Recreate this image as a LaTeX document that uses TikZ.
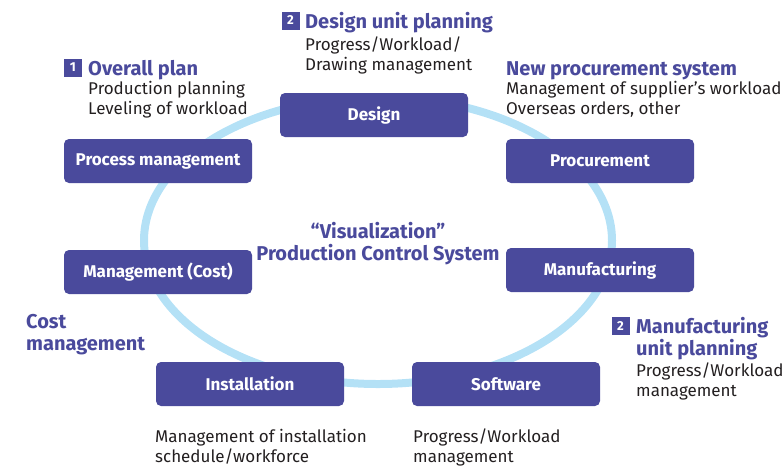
\documentclass[tikz,border=0pt]{standalone}
\usepackage{fontspec}
\setmainfont{Fira Sans}
\usetikzlibrary{positioning}
\definecolor{unitblue}{HTML}{4A4A9C}
\definecolor{ringblue}{HTML}{B4E1F6}
\definecolor{notegray}{HTML}{231F20}

\begin{document}
\begin{tikzpicture}[x=1pt, y=-1pt,
    unit/.style={fill=unitblue, rounded corners=5pt, minimum width=188pt, minimum height=44pt,
      text=white, font=\fontsize{17}{20}\selectfont\bfseries},
    heading/.style={anchor=base west, inner sep=0pt, align=left, text=unitblue,
      font=\fontsize{20}{22}\selectfont\bfseries},
    note/.style={anchor=base west, inner sep=0pt, align=left, text=notegray,
      font=\fontsize{17}{20}\selectfont},
    badge/.style={fill=unitblue, text=white, minimum size=18pt, inner sep=0pt,
      font=\fontsize{13}{13}\selectfont\bfseries}]
    \useasboundingbox (0,0) rectangle (782,467);
    % ring behind the units
    \draw [ringblue, line width=8pt] (378,240.5) ellipse [x radius=234, y radius=143.5];
    % units
    \node (design) [unit] at (374,115) {Design};
    \node (process) [unit] at (158,161) {Process management};
    \node (procurement) [unit] at (600,161) {Procurement};
    \node (cost) [unit] at (158,272) {Management (Cost)};
    \node (manufacturing) [unit] at (600,270) {Manufacturing};
    \node (installation) [unit] at (250,384) {Installation};
    \node (software) [unit] at (506,384) {Software};
    % centre (base is the last line)
    \node (title) [heading, anchor=base, align=center] at (378,260)
        {“Visualization”\\Production Control System};
    % labels
    \node (badge1) [badge] at (73,67.5) {1};
    \node (overall) [heading] at (88,75) {Overall plan};
    \node (overallnote) [note] at (88,114) {Production planning\\Leveling of workload};
    \node (badge2) [badge] at (290.5,20.5) {2};
    \node (designplan) [heading] at (305,28) {Design unit planning};
    \node (designnote) [note] at (305,70) {Progress/Workload/\\Drawing management};
    \node (newproc) [heading] at (506,75) {New procurement system};
    \node (procnote) [note] at (506,114) {Management of supplier’s workload\\Overseas orders, other};
    \node (costlabel) [heading] at (26,350) {Cost\\management};
    \node (badge3) [badge] at (620.5,326) {2};
    \node (manuplan) [heading] at (636,355) {Manufacturing\\unit planning};
    \node (manunote) [note] at (636,396) {Progress/Workload\\management};
    \node (instnote) [note] at (155,462) {Management of installation\\schedule/workforce};
    \node (softnote) [note] at (413,462) {Progress/Workload\\management};
\end{tikzpicture}
\end{document}
